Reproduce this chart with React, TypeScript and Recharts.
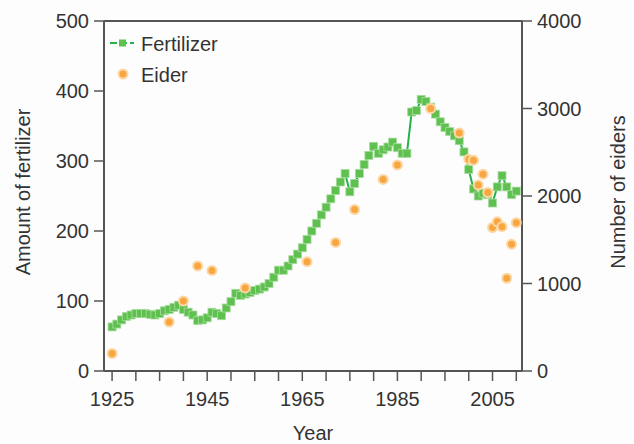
import {
  ComposedChart,
  Line,
  Scatter,
  XAxis,
  YAxis,
  ReferenceLine
} from "recharts";

// fertilizer, one value per year starting in 1925
const fertStartYear = 1925;
const fertilizer = [
  63, 67, 73, 78, 80, 82, 82, 82, 81, 80,
  82, 86, 88, 91, 94, 88, 84, 80, 72, 73,
  76, 84, 82, 79, 90, 99, 111, 108, 110, 112,
  115, 117, 120, 125, 134, 144, 144, 150, 159, 167,
  176, 188, 200, 211, 223, 234, 246, 258, 270, 282,
  256, 268, 282, 295, 308, 321, 311, 316, 320, 327,
  319, 311, 311, 370, 372, 388, 385, 377, 367, 356,
  348, 342, 336, 329, 313, 288, 260, 250, 254, 252,
  240, 263, 279, 263, 252, 257
];

const eiderYears = [
  1925, 1937, 1940, 1943, 1946, 1953, 1966, 1972, 1976, 1982, 1985, 1992,
  1998, 2000, 2001, 2002, 2003, 2004, 2005, 2006, 2007, 2008, 2009, 2010
];
const eiders = [
  200, 560, 800, 1200, 1150, 950, 1250, 1470, 1845, 2190, 2355, 3000,
  2720, 2420, 2410, 2125, 2250, 2040, 1640, 1705, 1650, 1060, 1450, 1695
];

const xTicks = [
  1925, 1930, 1935, 1940, 1945, 1950, 1955, 1960, 1965, 1970, 1975, 1980,
  1985, 1990, 1995, 2000, 2005, 2010
];
const xLabels = [1925, 1945, 1965, 1985, 2005];
const leftTicks = [0, 100, 200, 300, 400, 500];
const rightTicks = [0, 1000, 2000, 3000, 4000];

const fertData = fertilizer.map((v, i) => ({ year: fertStartYear + i, fert: v }));
const eiderData = eiderYears.map((y, i) => ({ year: y, eider: eiders[i] }));

const FONT = "'Liberation Sans', Arial, sans-serif";
const AXIS = "#555";
const TEXT = "#333";
const GREEN_LINE = "#25b24a";
const GREEN_SQ = "#5ec04e";
const ORANGE = "#f8a640";

const tickStyle = { fill: TEXT, fontSize: 20, fontFamily: FONT };

function XTick({ x, y, payload }: any) {
  if (!xLabels.includes(payload.value)) return null;
  return (
    <text x={x} y={y} dy={23} textAnchor="middle" {...tickStyle}>
      {payload.value}
    </text>
  );
}

function SquareDot({ cx, cy }: any) {
  if (cx == null || cy == null) return null;
  return (
    <rect x={cx - 4} y={cy - 4} width={8} height={8}
      fill={GREEN_SQ} stroke="#a9dd9f" strokeWidth={0.8} />
  );
}

function EiderDot({ cx, cy }: any) {
  return (
    <circle cx={cx} cy={cy} r={4.5} fill={ORANGE} stroke="#fcd7a4" strokeWidth={2} />
  );
}

function LegendBox() {
  return (
    <svg width={150} height={64} style={{ display: "block" }}>
      <line x1={5} y1={15} x2={29} y2={15} stroke={GREEN_LINE} strokeWidth={2} strokeDasharray="7 3" />
      <rect x={14} y={11.5} width={7} height={7} fill={GREEN_SQ} />
      <text x={36} y={23} fill={TEXT} fontSize={20} fontFamily={FONT}>Fertilizer</text>
      <circle cx={18} cy={46} r={4.5} fill={ORANGE} stroke="#fcd7a4" strokeWidth={2} />
      <text x={36} y={53.5} fill={TEXT} fontSize={20} fontFamily={FONT}>Eider</text>
    </svg>
  );
}

export default function App() {
  return (
    <div style={{ position: "absolute", left: 0, top: 0, width: 634, height: 444, background: "#fdfdfe" }}>
      <ComposedChart width={634} height={444} margin={{ top: 21, right: 0, bottom: 0, left: 0 }}>
        <XAxis
          xAxisId={0}
          type="number"
          dataKey="year"
          domain={[1923.3, 2011.2]}
          ticks={xTicks}
          interval={0}
          height={73}
          tick={<XTick />}
          tickSize={10}
          axisLine={{ stroke: AXIS, strokeWidth: 2 }}
          tickLine={{ stroke: AXIS, strokeWidth: 1.5 }}
          allowDataOverflow
          label={({ viewBox }: any) => (
            <text x={viewBox.x + viewBox.width / 2} y={440} textAnchor="middle"
              fill={TEXT} fontSize={20} fontFamily={FONT}>Year</text>
          )}
        />
        <YAxis
          yAxisId="left"
          orientation="left"
          width={104}
          domain={[0, 500]}
          ticks={leftTicks}
          interval={0}
          tickSize={10}
          tickMargin={5}
          tick={tickStyle}
          axisLine={{ stroke: AXIS, strokeWidth: 2 }}
          tickLine={{ stroke: AXIS, strokeWidth: 1.5 }}
          label={({ viewBox }: any) => {
            const cx = viewBox.x + 23;
            const cy = viewBox.y + viewBox.height / 2 - 4;
            return (
              <text x={cx} y={cy} dy={7} textAnchor="middle" transform={`rotate(-90 ${cx} ${cy})`}
                fill={TEXT} fontSize={20} fontFamily={FONT}>Amount of fertilizer</text>
            );
          }}
        />
        <YAxis
          yAxisId="right"
          orientation="right"
          width={112}
          domain={[0, 4000]}
          ticks={rightTicks}
          interval={0}
          tickSize={10}
          tickMargin={5}
          tick={tickStyle}
          axisLine={{ stroke: AXIS, strokeWidth: 2 }}
          tickLine={{ stroke: AXIS, strokeWidth: 1.5 }}
          label={({ viewBox }: any) => {
            const cx = viewBox.x + 96;
            const cy = viewBox.y + viewBox.height / 2 - 4;
            return (
              <text x={cx} y={cy} dy={7} textAnchor="middle" transform={`rotate(-90 ${cx} ${cy})`}
                fill={TEXT} fontSize={20} fontFamily={FONT}>Number of eiders</text>
            );
          }}
        />
        <ReferenceLine yAxisId="left" y={500} stroke={AXIS} strokeWidth={2} />
        <Line
          yAxisId="left"
          data={fertData}
          dataKey="fert"
          type="linear"
          stroke={GREEN_LINE}
          strokeWidth={2}
          dot={<SquareDot />}
          activeDot={false}
          isAnimationActive={false}
        />
        <Scatter
          yAxisId="right"
          data={eiderData}
          dataKey="eider"
          shape={<EiderDot />}
          isAnimationActive={false}
        />
      </ComposedChart>
      <div style={{ position: "absolute", left: 105, top: 28 }}>
        <LegendBox />
      </div>
    </div>
  );
}
